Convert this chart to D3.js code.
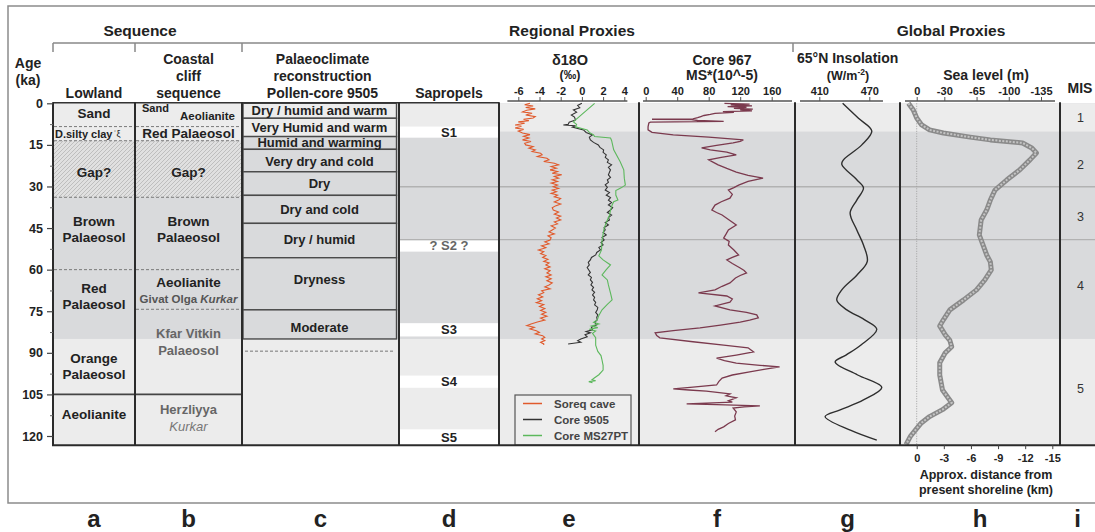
<!DOCTYPE html>
<html><head><meta charset="utf-8">
<script src="https://cdn.jsdelivr.net/npm/d3@7"></script>
<style>
body{margin:0;background:#fff;}
svg{display:block;}
</style></head><body>
<svg id="chart" width="1095" height="532"></svg>
<script>
// ---------------- DATA ----------------
const ageTicks = [0, 15, 30, 45, 60, 75, 90, 105, 120];
const ageMinorTicks = [7.5, 22.5, 37.5, 52.5, 67.5, 82.5, 97.5, 112.5];
const ageMax = 123.3;

const misLabels = ["1", "2", "3", "4", "5"];
const misLabelAges = [5.3, 22.2, 40.9, 65.9, 103];
const misBoundaries = [10.2, 30.1, 49.2, 85];
const interglacialBands = [[0, 10.2], [85, 123.3]];
const gridAges = [30.1, 49.2];

const lowlandZones = [
  {top: 0, bottom: 8.4, lines: ["Sand"], at: 3.6},
  {top: 8.4, bottom: 13.5, lines: ["D.silty clay"], at: 11},
  {top: 13.5, bottom: 33.9, lines: ["Gap?"], at: 25.1, gap: true},
  {top: 33.9, bottom: 60, lines: ["Brown", "Palaeosol"], at: 45.5},
  {top: 60, bottom: 85, lines: ["Red", "Palaeosol"], at: 69.7},
  {top: 85, bottom: 105, lines: ["Orange", "Palaeosol"], at: 94.9},
  {top: 105, bottom: 123.3, lines: ["Aeolianite"], at: 112.4}
];
const lowlandBounds = [[8.4, "uncertain"], [13.5, "uncertain"], [33.9, "uncertain"], [60, "uncertain"], [105, "sharp"]];

const coastalZones = [
  {top: 0, bottom: 8.4, lines: ["Sand", "Aeolianite"], at: 4, kind: "split"},
  {top: 8.4, bottom: 13.5, lines: ["Red Palaeosol"], at: 11},
  {top: 13.5, bottom: 33.9, lines: ["Gap?"], at: 25.1, gap: true},
  {top: 33.9, bottom: 60, lines: ["Brown", "Palaeosol"], at: 45.5},
  {top: 60, bottom: 74.3, lines: ["Aeolianite", "Givat Olga |Kurkar"], at: 67.5, kind: "formation"},
  {top: 74.3, bottom: 105, lines: ["Kfar Vitkin", "Palaeosol"], at: 86.1, kind: "grey"},
  {top: 105, bottom: 123.3, lines: ["Herzliyya", "|Kurkar"], at: 113.5, kind: "grey"}
];
const coastalBounds = [[8.4, "uncertain"], [13.5, "uncertain"], [33.9, "uncertain"], [60, "uncertain"], [74.3, "uncertain"], [105, "sharp"]];

const pollenZones = [
  {name: "Dry / humid and warm", top: 0, bottom: 5.4, at: 2.7},
  {name: "Very Humid and warm", top: 5.4, bottom: 12, at: 8.7},
  {name: "Humid and warming", top: 12, bottom: 16.6, at: 14.3},
  {name: "Very dry and cold", top: 16.6, bottom: 24.7, at: 21},
  {name: "Dry", top: 24.7, bottom: 33.2, at: 28.9},
  {name: "Dry and cold", top: 33.2, bottom: 43.3, at: 38.4},
  {name: "Dry / humid", top: 43.3, bottom: 55.7, at: 49},
  {name: "Dryness", top: 55.7, bottom: 74.5, at: 63.5},
  {name: "Moderate", top: 74.5, bottom: 85, at: 81}
];
const pollenUncertainBound = [89.4];

const sapropels = [
  {name: "S1", top: 8.4, bottom: 12.4},
  {name: "? S2 ?", top: 49.4, bottom: 53.5},
  {name: "S3", top: 79.3, bottom: 84.1},
  {name: "S4", top: 98.2, bottom: 102.6},
  {name: "S5", top: 117.6, bottom: 123.3}
];

const d18OTicks = [-6, -4, -2, 0, 2, 4];
const msTicks = [0, 40, 80, 120, 160];
const insolTicks = [410, 470];
const seaTicks = [0, -30, -65, -100, -135];
const distTicks = [0, -3, -6, -9, -12, -15];

const seriesNames = ["Soreq cave", "Core 9505", "Core MS27PT"];

// [age ka, d18O permil]
const soreq = [[0,-4.9],[0.5,-5.4],[1,-4.6],[1.5,-5.3],[2,-4.4],[2.5,-5.2],[3.1,-5.6],[3.6,-4.7],[4.2,-5.3],[4.8,-4.4],[5.3,-4.6],[5.8,-5.5],[6.3,-5],[6.7,-6],[7.2,-5.4],[7.8,-6.3],[8.3,-5.7],[8.9,-6.3],[9.4,-5.5],[10,-6],[10.7,-5.6],[11.3,-4.9],[11.9,-5.5],[12.5,-5],[13.2,-5.6],[13.8,-4.8],[14.4,-5.4],[15,-5.3],[15.6,-4.6],[16.2,-5],[16.8,-4.4],[17.4,-4.7],[18,-3.9],[18.6,-3.75],[19.2,-4.2],[19.8,-3.3],[20.4,-3.1],[21,-3.6],[21.6,-2.6],[22.2,-2.2],[22.8,-2.9],[23.4,-2.4],[24,-3],[24.6,-2.3],[25.2,-2.8],[25.8,-1.9],[26.4,-2.6],[27,-2.2],[27.6,-2.8],[28.2,-2.3],[28.8,-2.9],[29.5,-2.3],[30.1,-2.7],[30.7,-2.2],[31.3,-2.8],[31.9,-2.4],[32.5,-2.9],[33.1,-2.3],[33.7,-2.6],[34.3,-2],[34.9,-2.2],[35.6,-2.6],[36.3,-2],[37,-2.5],[37.7,-2.8],[38.5,-2.7],[39.2,-2.2],[40,-2.6],[40.7,-2],[41.4,-2.4],[42.1,-2],[42.8,-2.6],[43.5,-2.3],[44.2,-2.9],[45,-2.5],[45.7,-2.8],[46.4,-3.1],[47.1,-2.6],[47.8,-3.2],[48.5,-2.9],[49.3,-3],[50,-3.5],[50.7,-3.1],[51.4,-3.8],[52.1,-3.4],[52.9,-4.1],[53.5,-3.6],[54.2,-3.9],[54.9,-3.4],[55.6,-3.7],[56.3,-3.2],[57,-3.6],[57.6,-3.1],[58.3,-3.4],[59,-3],[59.7,-3.5],[60.4,-3],[61.2,-3.3],[61.9,-2.9],[62.6,-3.4],[63.3,-2.9],[64,-3.3],[64.8,-2.8],[65.5,-3.1],[66.2,-3.5],[66.9,-3],[67.6,-3.8],[68.3,-3.6],[69.1,-4.1],[69.8,-3.7],[70.5,-4.2],[71.2,-3.8],[71.9,-4.3],[72.6,-3.6],[73.3,-4],[74,-3.5],[74.7,-3.9],[75.4,-3.4],[76.1,-3.8],[76.8,-3.3],[77.5,-3.9],[78.2,-3.5],[78.9,-4.2],[79.6,-4.8],[80.2,-5.2],[80.8,-4.5],[81.4,-4.9],[82,-4.3],[82.6,-4],[83.2,-4.4],[83.8,-3.7],[84.4,-3.5],[85,-3.8],[85.6,-3.5],[86.2,-3.9],[86.8,-3.6],[87.2,-3.6]];

const core9505 = [[0,0],[0.8,-0.4],[1.6,-0.2],[2.4,-0.8],[3.2,-0.5],[4.2,-1],[5,-0.7],[6,-0.6],[6.8,-1.2],[7.6,-1.3],[7.8,-1.75],[8.1,-0.6],[8.6,-0.9],[9.6,0.15],[10.5,0.4],[11.4,1],[12.2,0.7],[13.2,0.8],[14.1,1.1],[15,1.55],[15.9,1.7],[16.8,2.05],[17.7,2],[18.6,2.3],[19.5,2.2],[20.4,2.5],[21.3,2.4],[22.2,2.8],[23.1,2.5],[24,2.7],[24.9,2.6],[25.8,2.5],[26.7,2.7],[27.6,2.4],[28.5,2.5],[29.4,2.2],[30.3,2.4],[31.3,2.2],[32.2,2.6],[33.1,2.3],[34,2.7],[34.9,2.5],[35.8,2.8],[36.7,2.5],[37.6,2.9],[38.5,2.7],[39.4,2.4],[40.3,2.8],[41.2,2.5],[42.1,2.6],[43,2.2],[43.9,2.5],[44.8,2.1],[45.7,2.2],[46.6,2],[47.5,2.3],[48.4,1.9],[49.3,2.1],[50.2,1.8],[51.1,2],[52,1.6],[52.9,1.75],[53.8,1.4],[54.7,1.3],[55.6,0.9],[56.5,0.8],[57.4,0.6],[58.3,0.7],[59.2,0.5],[60.1,0.65],[61,0.8],[61.9,0.6],[62.8,0.9],[63.7,0.8],[64.6,1],[65.5,0.85],[66.4,1.1],[67.3,0.95],[68.2,1.2],[69.1,1],[70,1.2],[70.9,1.1],[71.8,1.3],[72.7,1.2],[73.6,1.5],[74.5,1.45],[75.4,1.3],[76.3,1.5],[77.2,1.4],[78.1,1.45],[79,1.2],[79.9,1.4],[80.8,0.9],[81.7,1],[82.3,0.4],[82.8,0.8],[83.5,0.3],[84.2,0.5],[85,-0.1],[85.6,-0.4],[86.2,-0.1],[86.8,-1.3]];

const coreMS27PT = [[0,1.2],[2,0.6],[4,0],[6,-0.6],[6.7,-0.8],[7.6,-0.5],[8.5,-0.6],[9.6,0.5],[10.5,0.7],[11.4,1.1],[12,1.2],[12.5,2.7],[13.4,2.8],[16.8,3],[21,3.6],[24,3.95],[27,4],[29.5,4.1],[30.5,3.7],[31.5,3.2],[33.1,3.2],[34.9,3.4],[35.5,3],[36.7,2.85],[38.5,2.7],[40.5,2.6],[42.1,2.4],[45,2.1],[49.3,1.9],[52.9,1.85],[55,1.6],[56.5,2],[58.3,2.7],[60,2.3],[61.9,1.9],[63.7,2.4],[65.5,2.5],[68.5,2.7],[70.9,2.85],[72.5,2.4],[74.5,1.9],[76.5,1.6],[78.1,1.45],[79,1.1],[79.6,1.6],[80.3,0.9],[80.9,1.5],[81.5,0.7],[82.1,1.3],[83,1],[84.5,1.3],[87.2,1.3],[89.5,1.5],[91,1.8],[92.6,1.9],[94.5,2],[96.2,2],[97.9,1.6],[99,1.2],[99.7,0.95],[100.1,1.3],[100.4,0.65],[100.8,1]];

// [age ka, MS 10^-5]
const core967MS = [[0,100],[0.3,132],[0.6,108],[0.9,135],[1.2,104],[1.5,128],[1.8,112],[2.1,136],[2.4,120],[2.7,135],[3,98],[3.3,112],[3.6,88],[4,82],[4.4,74],[4.8,70],[5.2,66],[5.6,60],[5.75,8],[5.9,58],[6.2,66],[6.5,99],[6.8,6],[7.1,4],[8.5,3],[9.6,3],[10.5,8],[11.4,35],[12.2,80],[13.2,124],[13.7,120],[14.3,111],[15.2,90],[16.1,71],[16.8,82],[17.6,103],[18.6,115],[19.5,96],[20.4,80],[21.3,86],[22.2,92],[23.5,103],[24.8,115],[26,130],[27,149],[28.2,130],[29.5,118],[30.4,112],[31.3,105],[32.8,110],[34.2,107],[35.5,96],[36.7,88],[38.5,84],[39.4,90],[40.3,97],[42.1,106],[43.9,115],[45.7,105],[47.2,102],[48.6,99],[49.8,106],[51.1,105],[52.9,112],[54.7,118],[55.6,110],[56.5,103],[57.8,110],[59.4,120],[60.3,125],[61.2,128],[62.1,120],[63,114],[64.8,107],[66,97],[67.3,88],[68.4,67],[69.5,103],[70.6,110],[71.7,107],[73.1,88],[74.5,107],[75.4,128],[76.3,141],[77.4,143],[78.2,132],[78.9,120],[80,95],[81,69],[82,35],[82.8,12],[83.8,14],[84.6,18],[86,60],[87.2,99],[88.2,130],[89.7,137],[90.8,115],[91.9,90],[92.8,100],[93.7,115],[94.5,145],[95.1,170],[96,150],[96.9,132],[98,110],[99.1,97],[100.3,93],[101.6,90],[102.4,60],[103,35],[103.4,55],[103.8,77],[104.8,107],[105.5,102],[106.2,115],[107.3,105],[107.8,110],[108.4,52],[108.7,90],[109.1,145],[109.5,125],[109.9,111],[111.3,115],[112.8,113],[114.2,114],[115.5,105],[116.7,99],[117.6,92],[118.5,88]];

// [age ka, W/m2]
const insolation65N = [[0,438],[5.4,457],[10,473],[15,461],[20.4,439],[22,437],[27.6,455],[30.5,463],[34.9,455],[39.5,447],[45.7,455],[51.1,463],[57,467.6],[62,455],[67.3,437],[71,431],[74.5,443],[78,464],[81.5,479],[87.2,460],[90.8,442],[93.3,429],[98,456],[102.5,485],[107,463],[110.6,435],[113,417],[118,448],[121.5,479]];

// [age ka, sea level m]
const seaLevel = [[0,9],[2.4,3.7],[5.3,0],[7.8,-5.4],[9.6,-14],[10.7,-29],[12.2,-58],[13.2,-80],[14.3,-115],[16.1,-125],[17.9,-130],[20.4,-123],[24,-112],[27.6,-98],[31.3,-85],[34.9,-80],[38.5,-76],[42.1,-70],[47.5,-68],[51.1,-72],[54.7,-76],[57.2,-80],[60.1,-81],[63.7,-74],[67.3,-65],[70.9,-51],[74.5,-36],[78.1,-29],[80.3,-25],[83.5,-31],[85.5,-36],[87.8,-38],[90,-31],[93.6,-25],[98,-25],[103.4,-28],[108,-38],[110.5,-28],[113,-14],[115.3,-5],[117.7,1],[120.2,7],[123.1,11.6]];

const columnLetters = ["a", "b", "c", "d", "e", "f", "g", "h", "i"];

// ---------------- LAYOUT ----------------
const FONT = '"Liberation Sans", Arial, Helvetica, sans-serif';
const LIGHT = "#ececec", DARK = "#d9dadc";
const cols = {a:[53,135], b:[135,242], c:[242,399], d:[399,499], e:[499,639], f:[639,795], g:[795,900], h:[900,1060], i:[1060,1095]};
const cx = k => (cols[k][0] + cols[k][1]) / 2;
const RIGHT = 1095;
const AXIS_Y = 101;

const svg = d3.select("#chart").attr("font-family", FONT);
const y = d3.scaleLinear().domain([0, 120]).range([103.3, 436]);
const yTop = y(0), yBot = y(ageMax);

const defs = svg.append("defs");
const pat = defs.append("pattern").attr("id", "hatch").attr("patternUnits", "userSpaceOnUse").attr("width", 4).attr("height", 4);
pat.append("rect").attr("width", 4).attr("height", 4).attr("fill", "#e0e0e0");
pat.append("path").attr("d", "M-1,1 l2,-2 M0,4 l4,-4 M3,5 l2,-2").attr("stroke", "#b8b8b8").attr("stroke-width", 0.85);

function txt(x, yy, s, o = {}) {
  const t = svg.append("text").attr("x", x).attr("y", yy)
    .attr("text-anchor", o.anchor || "middle")
    .attr("font-size", o.size || 13)
    .attr("font-weight", o.weight || "bold")
    .attr("fill", o.fill || "#222").text(s);
  if (o.central) t.attr("dominant-baseline", "central");
  if (o.italic) t.attr("font-style", "italic");
  return t;
}

// outer frame
svg.append("path").attr("d", `M${RIGHT},6 H8 V503 H${RIGHT}`).attr("fill", "none").attr("stroke", "#8c8c8c").attr("stroke-width", 1.5);

// group headers & bracket
txt(140, 36, "Sequence", {size: 15.5});
txt(572, 36, "Regional Proxies", {size: 15.5});
txt(951, 36, "Global Proxies", {size: 15.5});
svg.append("line").attr("x1", cols.a[0]).attr("x2", RIGHT).attr("y1", 43).attr("y2", 43).attr("stroke", "#888").attr("stroke-width", 1.5);
[cols.a[0], cols.b[0], cols.c[0], 793].forEach(x => svg.append("line").attr("x1", x).attr("x2", x).attr("y1", 43).attr("y2", 52).attr("stroke", "#888").attr("stroke-width", 1.5));

// backgrounds
svg.append("rect").attr("x", cols.a[0]).attr("y", yTop).attr("width", RIGHT - cols.a[0]).attr("height", yBot - yTop).attr("fill", DARK);
interglacialBands.forEach(([a, b]) => svg.append("rect").attr("x", cols.a[0]).attr("y", y(a)).attr("width", RIGHT - cols.a[0]).attr("height", y(b) - y(a)).attr("fill", LIGHT));
const toneOf = z => (z.top < misBoundaries[0] || z.top >= misBoundaries[3]) ? LIGHT : DARK;

// columns a & b zones (only gaps and early-Holocene units override the MIS shading)
function lithoColumn(zones, bounds, key) {
  const [x0, x1] = cols[key];
  zones.forEach(z => {
    if (z.gap || z.top < misBoundaries[0]) {
      svg.append("rect").attr("x", x0).attr("y", y(z.top)).attr("width", x1 - x0).attr("height", y(z.bottom) - y(z.top))
        .attr("fill", z.gap ? "url(#hatch)" : LIGHT);
    }
  });
  bounds.forEach(([a, kind]) => {
    svg.append("line").attr("x1", x0 + 1).attr("x2", x1 - 1).attr("y1", y(a)).attr("y2", y(a))
      .attr("stroke", kind === "sharp" ? "#444" : "#7a7a7a").attr("stroke-width", kind === "sharp" ? 1.6 : 1)
      .attr("stroke-dasharray", kind === "sharp" ? null : "3,2");
  });
}
lithoColumn(lowlandZones, lowlandBounds, "a");
lithoColumn(coastalZones, coastalBounds, "b");

// column c pollen zones
pollenZones.forEach(z => {
  svg.append("rect").attr("x", cols.c[0] + 1).attr("y", y(z.top)).attr("width", cols.c[1] - cols.c[0] - 3.5).attr("height", y(z.bottom) - y(z.top))
    .attr("fill", toneOf(z)).attr("stroke", "#4a4a4a").attr("stroke-width", 1.4);
});
pollenUncertainBound.forEach(a => svg.append("line").attr("x1", cols.c[0] + 3).attr("x2", cols.c[1] - 4).attr("y1", y(a)).attr("y2", y(a)).attr("stroke", "#777").attr("stroke-dasharray", "3,2"));

// column d sapropels
sapropels.forEach(s => {
  svg.append("rect").attr("x", cols.d[0]).attr("y", y(s.top)).attr("width", cols.d[1] - cols.d[0]).attr("height", y(s.bottom) - y(s.top)).attr("fill", "#ffffff");
});

// grid lines (MIS boundaries)
gridAges.forEach(a => svg.append("line").attr("x1", cols.d[0]).attr("x2", RIGHT).attr("y1", y(a)).attr("y2", y(a)).attr("stroke", "#b2b2b2").attr("stroke-width", 1.3));

// sapropel labels
sapropels.forEach(s => txt(cx("d"), y((s.top + s.bottom) / 2), s.name, {central: true, size: 13, fill: s.name.includes("?") ? "#666" : "#222"}));

// ---------------- scales for curves ----------------
const xD18O = d3.scaleLinear().domain([-6, 4]).range([518.3, 624.3]);
const xMS = d3.scaleLinear().domain([0, 160]).range([645.7, 771.7]);
const xIns = d3.scaleLinear().domain([410, 470]).range([819.3, 869.3]);
const xSea = d3.scaleLinear().domain([0, -135]).range([916.7, 1041]);
const xDist = d3.scaleLinear().domain([0, -15]).range([916.7, 1052.3]);

// zero line in h
svg.append("line").attr("x1", xSea(0)).attr("x2", xSea(0)).attr("y1", yTop).attr("y2", yBot).attr("stroke", "#a0a0a0").attr("stroke-width", 1).attr("stroke-dasharray", "1,1.5");

const lineOf = xs => d3.line().x(d => xs(d[1])).y(d => y(d[0]));
const seriesColors = {"Soreq cave": "#e05a2c", "Core 9505": "#333333", "Core MS27PT": "#5cb85c"};
const seriesData = {"Soreq cave": soreq, "Core 9505": core9505, "Core MS27PT": coreMS27PT};
seriesNames.forEach(n => svg.append("path").attr("d", lineOf(xD18O)(seriesData[n])).attr("fill", "none").attr("stroke", seriesColors[n]).attr("stroke-width", 1.1));

svg.append("path").attr("d", lineOf(xMS)(core967MS)).attr("fill", "none").attr("stroke", "#7b3a4e").attr("stroke-width", 1.3);

svg.append("path").attr("d", lineOf(xIns).curve(d3.curveCatmullRom.alpha(0.5))(insolation65N)).attr("fill", "none").attr("stroke", "#2e2e2e").attr("stroke-width", 1.4);

const seaPath = lineOf(xSea)(seaLevel);
svg.append("path").attr("d", seaPath).attr("fill", "none").attr("stroke", "#8a8a8a").attr("stroke-width", 5).attr("stroke-linejoin", "round");
svg.append("path").attr("d", seaPath).attr("fill", "none").attr("stroke", "#c4c4c4").attr("stroke-width", 2).attr("stroke-dasharray", "2,1.5");

// legend in e
const lg = svg.append("g");
lg.append("rect").attr("x", 515).attr("y", 395).attr("width", 116).attr("height", yBot - 395).attr("fill", "#eeeeee").attr("stroke", "#555").attr("stroke-width", 1.2);
seriesNames.forEach((n, i) => {
  const yy = 403.5 + i * 16;
  lg.append("line").attr("x1", 523).attr("x2", 542).attr("y1", yy).attr("y2", yy).attr("stroke", seriesColors[n]).attr("stroke-width", 1.5);
  lg.append("text").attr("x", 554).attr("y", yy).attr("dominant-baseline", "central").attr("font-size", 11.5).attr("font-weight", "bold").attr("fill", "#444").text(n);
});

// column separators and frame of plot
svg.append("line").attr("x1", cols.a[0]).attr("x2", cols.d[1]).attr("y1", yTop - 0.5).attr("y2", yTop - 0.5).attr("stroke", "#333").attr("stroke-width", 1.6);
[cols.a[0], cols.b[0], cols.c[0], cols.d[0], cols.e[0], cols.f[0], cols.g[0], cols.h[0], cols.i[0]].forEach(x =>
  svg.append("line").attr("x1", x).attr("x2", x).attr("y1", yTop - 1).attr("y2", yBot).attr("stroke", "#2b2b2b").attr("stroke-width", 2));
svg.append("line").attr("x1", cols.a[0] - 1).attr("x2", RIGHT).attr("y1", yBot).attr("y2", yBot).attr("stroke", "#2b2b2b").attr("stroke-width", 2);

// ---------------- axes ----------------
const ga = svg.append("g").attr("transform", `translate(${cols.a[0]},0)`)
  .call(d3.axisLeft(y).tickValues(ageTicks).tickSize(6).tickPadding(4).tickFormat(d => String(d)));
ga.select(".domain").remove();
ga.attr("font-family", FONT).attr("font-size", 12.5).attr("font-weight", "bold");
ga.selectAll("text").attr("fill", "#222");
ga.selectAll("line").attr("stroke", "#444").attr("stroke-width", 1.2);
const gm = svg.append("g").attr("transform", `translate(${cols.a[0]},0)`)
  .call(d3.axisLeft(y).tickValues(ageMinorTicks).tickSize(3).tickFormat(""));
gm.select(".domain").remove();
gm.selectAll("line").attr("stroke", "#666");

function topAxis(scale, ticks, ext) {
  const g = svg.append("g").attr("transform", `translate(0,${AXIS_Y})`)
    .call(d3.axisTop(scale).tickValues(ticks).tickSize(4).tickPadding(2).tickFormat(d => String(d)));
  g.select(".domain").remove();
  g.attr("font-family", FONT).attr("font-size", 11).attr("font-weight", "bold");
  g.selectAll("text").attr("fill", "#222");
  g.selectAll("line").attr("stroke", "#555");
  g.append("line").attr("x1", scale(ext[0])).attr("x2", scale(ext[1])).attr("y1", 0).attr("y2", 0).attr("stroke", "#555").attr("stroke-width", 1.3);
}
topAxis(xD18O, d18OTicks, [-7.03, 4.29]);
topAxis(xMS, msTicks, [-3.4, 185.8]);
topAxis(xIns, insolTicks, [386.8, 486.4]);
topAxis(xSea, seaTicks, [12.7, -150.2]);

const gb = svg.append("g").attr("transform", `translate(0,${yBot})`)
  .call(d3.axisBottom(xDist).tickValues(distTicks).tickSize(4).tickPadding(5).tickFormat(d => String(d)));
gb.select(".domain").remove();
gb.attr("font-family", FONT).attr("font-size", 11).attr("font-weight", "bold");
gb.selectAll("text").attr("fill", "#222");
gb.selectAll("line").attr("stroke", "#444");
txt(986, 479, "Approx. distance from", {size: 12.5});
txt(986, 494, "present shoreline (km)", {size: 12.5});

// ---------------- column headers ----------------
txt(28, 68, "Age", {size: 14});
txt(28, 85, "(ka)", {size: 14});
const headers = {a: ["Lowland"], b: ["Coastal", "cliff", "sequence"], c: ["Palaeoclimate", "reconstruction", "Pollen-core 9505"], d: ["Sapropels"]};
Object.entries(headers).forEach(([k, lines]) => {
  lines.forEach((s, i) => txt(cx(k) + (k === "c" ? 2 : 0), 98 - (lines.length - 1 - i) * 17, s, {size: 14}));
});
txt(570, 65, "δ18O", {size: 14.5});
txt(570, 79, "(‰)", {size: 12.5});
txt(722, 65, "Core 967", {size: 14});
txt(722, 80, "MS*(10^-5)", {size: 14});
txt(797, 63, "65°N Insolation", {size: 14, anchor: "start"});
const wm = txt(848, 80, "(W/m", {size: 12.5});
wm.append("tspan").attr("font-size", 8.5).attr("dy", -5).text("-2");
wm.append("tspan").attr("dy", 5).text(")");
txt(986, 80, "Sea level (m)", {size: 14});
txt(1080, 93, "MIS", {size: 14});

// ---------------- zone labels ----------------
const LH = 16.5;
function zoneLabel(key, z) {
  const n = z.lines.length;
  z.lines.forEach((s, i) => {
    const yy = y(z.at) + (i - (n - 1) / 2) * LH;
    if (z.kind === "formation" && i === 1) {
      const [a, b] = s.split("|");
      const t = txt(cx(key), yy, a, {central: true, size: 11.5, fill: "#555"});
      t.append("tspan").attr("font-style", "italic").text(b);
    } else if (z.kind === "grey") {
      if (s.startsWith("|")) txt(cx(key), yy, s.slice(1), {central: true, size: 13, fill: "#777", italic: true, weight: "normal"});
      else txt(cx(key), yy, s, {central: true, size: 13, fill: "#666"});
    } else {
      txt(cx(key), yy, s, {central: true, size: 13.5});
    }
  });
}
lowlandZones.forEach(z => {
  if (z.lines[0] === "D.silty clay") {
    const t = txt(cols.a[0] + 2, y(z.at), z.lines[0], {central: true, size: 11, anchor: "start"});
    t.append("tspan").attr("font-size", 9).attr("font-weight", "normal").attr("dx", 1).text("ʾξ");
  } else zoneLabel("a", z);
});
coastalZones.forEach(z => {
  if (z.kind === "split") {
    txt(cols.b[0] + 7, y(z.top) + 9, z.lines[0], {size: 11, anchor: "start"});
    txt(cols.b[1] - 7, y(z.bottom) - 7, z.lines[1], {size: 11.5, anchor: "end"});
  } else zoneLabel("b", z);
});
pollenZones.forEach(z => txt(cx("c") - 1, y(z.at), z.name, {central: true, size: 13}));

// MIS labels
misLabels.forEach((m, i) => txt(cx("i") + 3, y(misLabelAges[i]), m, {central: true, size: 12.5, weight: "normal", fill: "#333"}));

// bottom letters
columnLetters.forEach(l => txt(cx(l), 527, l, {size: 24}));
</script></body></html>
